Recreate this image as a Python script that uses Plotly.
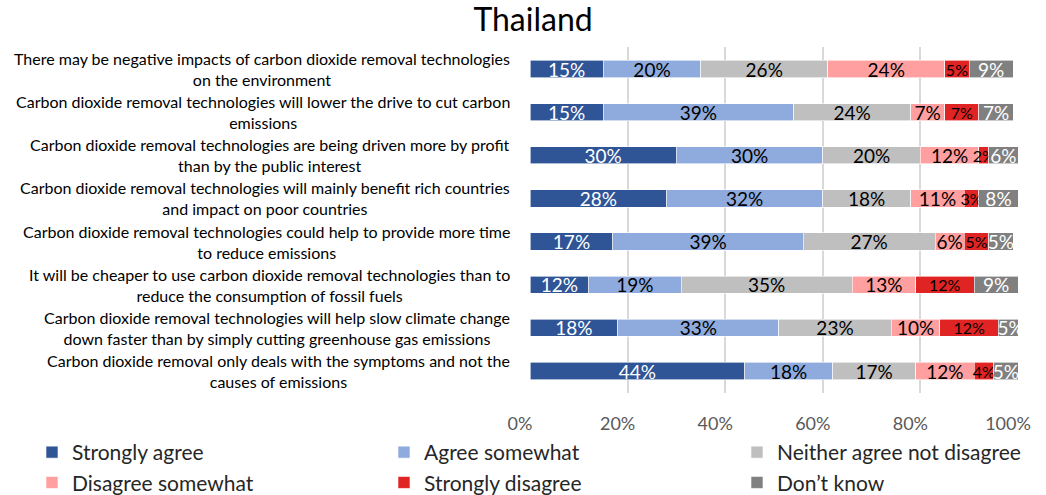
import plotly.graph_objects as go

statements = [
    "There may be negative impacts of carbon dioxide removal technologies<br>on the environment",
    "Carbon dioxide removal technologies will lower the drive to cut carbon<br>emissions",
    "Carbon dioxide removal technologies are being driven more by profit<br>than by the public interest",
    "Carbon dioxide removal technologies will mainly benefit rich countries<br>and impact on poor countries",
    "Carbon dioxide removal technologies could help to provide more time<br>to reduce emissions",
    "It will be cheaper to use carbon dioxide removal technologies than to<br>reduce the consumption of fossil fuels",
    "Carbon dioxide removal technologies will help slow climate change<br>down faster than by simply cutting greenhouse gas emissions",
    "Carbon dioxide removal only deals with the symptoms and not the<br>causes of emissions",
]

strongly_agree = [15, 15, 30, 28, 17, 12, 18, 44]
agree_somewhat = [20, 39, 30, 32, 39, 19, 33, 18]
neither = [26, 24, 20, 18, 27, 35, 23, 17]
disagree_somewhat = [24, 7, 12, 11, 6, 13, 10, 12]
strongly_disagree = [5, 7, 2, 3, 5, 12, 12, 4]
dont_know = [9, 7, 6, 8, 5, 9, 5, 5]

x_ticks = [0, 20, 40, 60, 80, 100]
x_tick_labels = ["0%", "20%", "40%", "60%", "80%", "100%"]

FONT = "Lato"

# name, values, fill, label colour, label size, legend id
series = [
    ("Strongly agree", strongly_agree, "#2F5597", "white", 19, "legend"),
    ("Agree somewhat", agree_somewhat, "#8FAADC", "black", 19, "legend2"),
    ("Neither agree not disagree", neither, "#BFBFBF", "black", 19, "legend3"),
    ("Disagree somewhat", disagree_somewhat, "#FF9F9F", "black", 19, "legend"),
    ("Strongly disagree", strongly_disagree, "#E02424", "black", 16, "legend2"),
    ("Don\u2019t know", dont_know, "#808080", "white", 19, "legend3"),
]

fig = go.Figure()
for name, vals, color, tcolor, tsize, leg in series:
    fig.add_trace(go.Bar(
        y=statements,
        x=vals,
        name=name,
        orientation="h",
        width=0.4,
        marker=dict(color=color, line=dict(color="white", width=0.6)),
        text=[f"{v}%" for v in vals],
        textposition="inside",
        insidetextanchor="middle",
        textangle=0,
        constraintext="none",
        textfont=dict(family=FONT, size=tsize, color=tcolor),
        legend=leg,
        legendgroup=name,
        hoverinfo="skip",
    ))

# statement labels, centred within their block, right edge beside the axis
for s in statements:
    fig.add_annotation(
        x=-0.0369, xref="paper", xanchor="right",
        y=s, yref="y", yanchor="middle",
        text=s, align="center", showarrow=False,
        font=dict(family=FONT, size=16, color="black"),
    )

legend_common = dict(
    orientation="v", yanchor="top", xanchor="left", y=-0.1127,
    traceorder="grouped", tracegroupgap=0,
    font=dict(family=FONT, size=21, color="#262626"),
    bgcolor="rgba(0,0,0,0)",
)

fig.update_layout(
    width=1046, height=495,
    margin=dict(l=530, r=28, t=47, b=102, autoexpand=False),
    paper_bgcolor="white", plot_bgcolor="white",
    barmode="stack",
    bargap=0.6,
    title=dict(text="Thailand", x=0.5096, xanchor="center", y=0.9596, yanchor="middle",
               yref="container",
               font=dict(family=FONT, size=32, color="black")),
    xaxis=dict(range=[0, 100], tickvals=x_ticks, ticktext=x_tick_labels,
               showgrid=True, gridcolor="#D9D9D9", gridwidth=1.5,
               zeroline=False, showline=False, ticks="",
               ticklabelstandoff=18, ticklabelshift=-10,
               tickfont=dict(family=FONT, size=18, color="#595959"),
               fixedrange=True),
    yaxis=dict(autorange="reversed", showticklabels=False, showgrid=False,
               showline=False, ticks="", fixedrange=True),
    legend=dict(x=-1.0205, **legend_common),
    legend2=dict(x=-0.2992, **legend_common),
    legend3=dict(x=0.4242, **legend_common),
    showlegend=True,
)

fig.write_html("out.html")
